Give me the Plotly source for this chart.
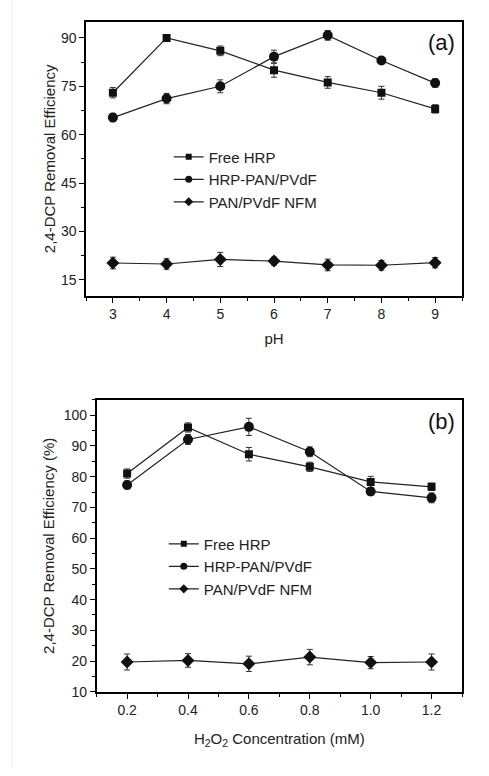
import plotly.graph_objects as go

# ---- Data ----
ph = [3, 4, 5, 6, 7, 8, 9]
ph_free = [73.0, 90.0, 86.0, 80.0, 76.2, 73.0, 68.0]
ph_free_err = [1.6, 1.0, 1.5, 2.2, 1.8, 2.0, 1.3]
ph_hrp = [65.3, 71.2, 75.0, 84.2, 90.8, 83.0, 76.0]
ph_hrp_err = [1.3, 1.6, 2.0, 2.0, 1.5, 1.0, 1.3]
ph_nfm = [20.2, 19.9, 21.3, 20.8, 19.6, 19.5, 20.3]
ph_nfm_err = [1.8, 1.6, 2.2, 1.2, 1.8, 1.5, 1.6]

conc = [0.2, 0.4, 0.6, 0.8, 1.0, 1.2]
c_free = [81.0, 96.0, 87.3, 83.2, 78.3, 76.7]
c_free_err = [1.5, 1.5, 2.2, 1.5, 1.8, 1.2]
c_hrp = [77.3, 92.1, 96.2, 88.1, 75.2, 73.1]
c_hrp_err = [1.3, 1.6, 2.8, 1.6, 1.2, 1.6]
c_nfm = [19.7, 20.2, 19.1, 21.3, 19.5, 19.7]
c_nfm_err = [2.6, 2.2, 2.5, 2.5, 2.0, 2.6]

names = ["Free HRP", "HRP-PAN/PVdF", "PAN/PVdF NFM"]
symbols = ["square", "circle", "diamond"]
sizes = [8, 10, 10]
legend_sizes = [6, 7, 7]

FONT = "Liberation Sans, Arial, sans-serif"
fig = go.Figure()

def add_series(x, ys, errs, xa, ya, legend):
    for name, sym, sz, y, e in zip(names, symbols, sizes, ys, errs):
        fig.add_trace(go.Scatter(
            x=x, y=y, name=name, mode="lines+markers",
            xaxis=xa, yaxis=ya, showlegend=False,
            line=dict(color="#222222", width=1.2),
            marker=dict(symbol=sym, size=sz, color="#111111"),
            error_y=dict(type="data", array=e, visible=True,
                         color="#333333", thickness=1, width=3),
        ))
    # legend entries with smaller key symbols (as in the original)
    for name, sym, lsz in zip(names, symbols, legend_sizes):
        fig.add_trace(go.Scatter(
            x=[None], y=[None], name=name, mode="lines+markers",
            xaxis=xa, yaxis=ya, legend=legend, showlegend=True,
            line=dict(color="#222222", width=1.2),
            marker=dict(symbol=sym, size=lsz, color="#111111"),
        ))

add_series(ph, [ph_free, ph_hrp, ph_nfm], [ph_free_err, ph_hrp_err, ph_nfm_err], "x", "y", "legend")
add_series(conc, [c_free, c_hrp, c_nfm], [c_free_err, c_hrp_err, c_nfm_err], "x2", "y2", "legend2")

axis_common = dict(
    showline=True, linecolor="black", linewidth=1.5, mirror=True,
    ticks="outside", ticklen=5, tickwidth=1.2, tickcolor="black",
    showgrid=False, zeroline=False,
    tickfont=dict(family=FONT, size=14, color="#222"),
    title_font=dict(family=FONT, size=15, color="#222"),
)
minor = dict(ticks="outside", ticklen=3, tickwidth=1.2, tickcolor="black", showgrid=False)

fig.update_layout(
    width=489, height=776,
    margin=dict(l=0, r=0, t=0, b=0),
    paper_bgcolor="white", plot_bgcolor="white",
    font=dict(family=FONT, color="#222"),
    xaxis=dict(domain=[0.1759, 0.9448], anchor="y", range=[2.5, 9.5],
               tickvals=[3, 4, 5, 6, 7, 8, 9],
               minor=dict(dtick=0.5, **minor),
               title=dict(text="pH", standoff=12), **axis_common),
    yaxis=dict(domain=[0.6147, 0.9716], anchor="x", range=[10, 95],
               tickvals=[15, 30, 45, 60, 75, 90],
               minor=dict(tick0=7.5, dtick=7.5, **minor),
               title=dict(text="2,4-DCP Removal Efficiency", standoff=2), **axis_common),
    xaxis2=dict(domain=[0.1977, 0.9448], anchor="y2", range=[0.1, 1.3],
                tickvals=[0.2, 0.4, 0.6, 0.8, 1.0, 1.2], ticktext=["0.2", "0.4", "0.6", "0.8", "1.0", "1.2"],
                minor=dict(tick0=0.1, dtick=0.1, **minor),
                title=dict(text="H<sub>2</sub>O<sub>2</sub> Concentration (mM)", standoff=16), **axis_common),
    yaxis2=dict(domain=[0.0992, 0.4794], anchor="x2", range=[10, 105],
                tickvals=[10, 20, 30, 40, 50, 60, 70, 80, 90, 100],
                minor=dict(tick0=5, dtick=5, **minor),
                title=dict(text="2,4-DCP Removal Efficiency (%)", standoff=6), **axis_common),
    legend=dict(x=0.345, y=0.817, xanchor="left", yanchor="top",
                bgcolor="rgba(0,0,0,0)", font=dict(family=FONT, size=15, color="#222"),
                tracegroupgap=0, itemwidth=30),
    legend2=dict(x=0.335, y=0.313, xanchor="left", yanchor="top",
                 bgcolor="rgba(0,0,0,0)", font=dict(family=FONT, size=15, color="#222"),
                 tracegroupgap=0, itemwidth=30),
    annotations=[
        dict(text="(a)", x=0.935, y=0.963, xref="paper", yref="paper",
             xanchor="right", yanchor="top", showarrow=False,
             font=dict(family=FONT, size=22, color="#111")),
        dict(text="(b)", x=0.935, y=0.470, xref="paper", yref="paper",
             xanchor="right", yanchor="top", showarrow=False,
             font=dict(family=FONT, size=22, color="#111")),
    ],
    shapes=[dict(type="line", xref="paper", yref="paper", x0=12/489, x1=12/489,
                 y0=0, y1=1, line=dict(color="#eeeeee", width=1))],
)

fig.write_html("out.html")
